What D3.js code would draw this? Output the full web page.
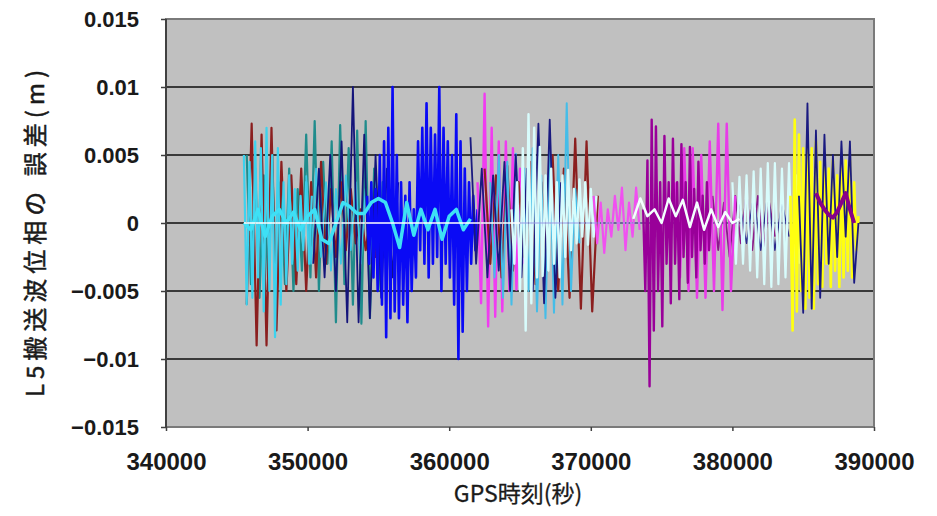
<!DOCTYPE html>
<html>
<head>
<meta charset="utf-8">
<script src="https://cdn.jsdelivr.net/npm/d3@7/dist/d3.min.js"></script>
<style>
  html, body { margin: 0; padding: 0; background: #fff; }
  svg { display: block; }
</style>
</head>
<body>
<svg id="chart" width="937" height="516"></svg>
<script>
// ticks
var xTicks = [340000, 350000, 360000, 370000, 380000, 390000];
var yTicks = [0.015, 0.01, 0.005, 0, -0.005, -0.01, -0.015];
var yTickLabels = ["0.015", "0.01", "0.005", "0", "\u22120.005", "\u22120.01", "\u22120.015"];

// series values, in mm (start time / step in seconds given in the table below)
var teal = [5.0, -4.5, 4.0, -5.5, 3.5, -4.0, 5.0, -6.0, 3.0, -4.5, 4.0, -5.0, 2.5, -3.5, 6.5, -4.0, 7.5, -5.0,
  4.5, -3.0, 6.0, -7.3, 7.2, -4.5, 5.5, -6.0, 6.8, -7.4, 7.5, -7.0, 4.0, -5.0, 3.0, -3.5, 2.0];
var brownA = [-6.0, 7.3, -9.0, 6.5, -9.0, 7.0, -7.9, 4.5, -5.0, 3.5, -4.5, 4.0, -5.0, 3.0, -4.0, 4.5, -3.0, 2.5,
  -2.5, 3.0, -2.0, 2.5, -1.5, 1.0, -2.0, 0.5, -2.5, 0];
var brownB = [4.0, -3.0, 3.5, -4.0, 4.2, -3.5, 3.0, -2.5, 4.5, -4.5, 3.0, -3.5, 5.0, -5.0, 4.0, -5.5, 6.2, -6.3,
  6.0, -6.5, 2.0];
var cyanA = [5.0, -6.0, 4.5, -5.5, 6.0, -4.0, 5.5, -6.5, 7.0, -5.0, 5.0, -8.4, 5.5, -6.0, 3.0, -4.5, 3.5, -3.0,
  2.5, -3.5, 2.0, -2.0, 3.0, -3.0, 2.0];
var cyanB = [3.5, -3.0, 4.0, -2.5, 3.0, -3.5, 2.5, -3.0, 3.5, -2.0, 3.0, -3.0, 2.5, -2.5, 3.0, -2.0, 2.0, -2.5,
  2.0, -1.5, 1.5];
var cyanLine = [0, -0.5, 1.0, -1.0, 0.5, 1.0, 0, 0.8, -0.5, 0.5, 1.0, -1.2, -1.5, 0, 1.5, 1.2, 0.7, 0.7, 1.5,
  1.8, 1.5, 0, -1.8, 1.5, -0.9, 1.0, -0.5, 1.0, -1.2, 0.5, 1.0, -0.5, 0.3];
var navyA = [-3.0, 4.0, -4.0, 5.0, -5.0, 6.0, -7.3, 10.0, -7.3, 6.5, -7.0, 5.0, -5.5, 4.0, -4.0, 3.0];
var blue = [2.0, -3.0, 3.0, -4.0, 2.5, -5.0, 5.0, -6.0, 6.0, -8.4, 7.0, -7.0, 10.0, -6.5, 5.0, -7.0, 3.0, -6.0,
  2.0, -7.3, 3.0, -5.0, 1.0, -4.0, 6.0, -2.0, 7.0, -3.0, 8.8, -4.0, 7.0, -3.0, 6.5, -2.5, 10.0, -5.0, 7.0, -3.0,
  6.0, -4.0, 5.0, -6.0, 8.0, -10.0, 6.0, -8.0, 4.0, -5.0, 3.0, -3.0, 2.0, -2.0, 1.0];
var magentaA = [3.0, -5.9, 9.5, -7.6, 7.0, -6.9, 6.0, -6.5, 6.0, -5.0, 5.5, -4.9, 4.0, -3.0];
var lightBlue = [3.0, -4.0, 5.0, -5.5, 4.5, -6.0, 5.1, -4.0, 4.0, -5.0, 5.5, -6.5, 3.5, -7.0, 6.0, -6.6, 5.0,
  -6.0, 8.8, -5.0, 2.5, -1.5];
var navyB = [6.3, -3.0, 4.0, -4.0, 3.5, -3.5, 4.5, -5.0, 5.0, -4.0, 4.0, -5.0, 7.3, -5.9, 7.6, -5.5, 3.0];
var lightCyanA = [1.0, -3.0, 3.0, -5.0, 5.5, -7.9, 8.0, -5.9, 7.0, -4.0, 5.6, -3.9, 3.5, -3.5, 4.0, -3.0, 3.0,
  -4.0, 3.5, -2.5, 3.9, -2.0, 2.5, -1.5, 3.2, -1.0, 3.0, -1.6, 2.5, -1.0, 2.0];
var magentaB = [2.0, -1.5, 1.5, -2.2, 1.0, -1.0, 2.0, -0.5, 2.6, -2.0, 1.5, -1.0, 2.6, -0.5];
var purpleA = [1.0, -5.0, 4.6, -12.0, 7.6, -7.9, 7.1, -5.0, 3.0, -7.6, 6.4, -3.0, 3.0, -5.9, 6.2, -3.0, 3.0,
  -5.6, 5.8, -2.5, 3.0, -4.4, 5.6, -2.5, 2.5, -4.0, 4.5, -2.0, 2.0, -3.0, 3.0, -2.0, 1.0];
var magentaC = [3.0, -4.0, 5.5, -5.0, 5.5, -5.5, 5.0, -5.5, 6.0, -5.0, 7.3, -6.4, 7.3, -5.0, 2.0];
var whiteZig = [0.3, 1.8, 0.5, 1.0, 0.0, 1.8, 0.5, 1.7, -0.3, 1.5, -0.5, 1.0, -0.3, 0.8, 0.0, 0.3];
var purpleB = [2.0, -2.0, 1.5, -2.5, 2.0, -1.5, 2.2, -2.0, 2.0, -2.0, 1.5, -1.0];
var navyC = [1.5, -1.5, 2.0, -2.0, 2.2, -2.0, 1.5, -1.0];
var lightCyanB = [3.0, -3.0, 3.4, -3.0, 3.5, -3.5, 3.8, -4.0, 4.0, -4.5, 4.4, -4.7, 4.4, -4.5, 4.0, -4.0, 4.4,
  -4.7, 3.5, -3.0];
var yellow = [2.0, -7.9, 7.6, -6.5, 6.5, -5.0, 5.5, -6.3, 6.4, -5.5, 5.5, -6.3, 6.0, -4.5, 4.5, -4.7, 4.6, -3.0,
  4.0, -4.7, 4.6, -3.5, 3.5, -4.7, 4.0, -4.0, 4.6, -3.5, 4.6, -4.0, 3.0, -2.0, 0.5];
var navyD = [2.0, -6.6, 8.8, -6.3, 6.8, -5.5, 6.5, -3.0, 5.0, -2.5, 6.0, -1.0, 6.0, -4.4, 0];
var purpleC = [2.2, 1.5, 1.0, 0.6, 0.4, 0.8, 1.5, 2.2, 1.0, 0.0];
var zeroA = [0, 0];
var zeroB = [0, 0];

// drawing table, bottom to top
var series = [
  { values: teal,       t0: 345700, dt: 300,   color: "#208c8c", width: 2.2 },
  { values: brownA,     t0: 345700, dt: 350,   color: "#8b1f1f", width: 2.2 },
  { values: cyanA,      t0: 345500, dt: 200,   color: "#3dd2ee", width: 2.2 },
  { values: cyanB,      t0: 349900, dt: 350,   color: "#3dc8e6", width: 1.8 },
  { values: navyA,      t0: 350400, dt: 400,   color: "#14147a", width: 1.8 },
  { values: blue,       t0: 354200, dt: 150,   color: "#0a0af5", width: 2.6 },
  { values: cyanLine,   t0: 345500, dt: 500,   color: "#3ee0f5", width: 3.5 },
  { values: magentaA,   t0: 362000, dt: 250,   color: "#f03cf0", width: 2.4 },
  { values: brownB,     t0: 362500, dt: 400,   color: "#8b1f1f", width: 2.2 },
  { values: lightBlue,  t0: 362900, dt: 300,   color: "#45bde8", width: 2 },
  { values: navyB,      t0: 361500, dt: 400,   color: "#1a1a80", width: 1.8 },
  { values: lightCyanA, t0: 364400, dt: 200,   color: "#d8fcfc", width: 2.4 },
  { values: magentaB,   t0: 370200, dt: 250,   color: "#f050f0", width: 2.2 },
  { values: zeroB,      t0: 365000, dt: 21000, color: "#9a9ae8", width: 1.2 },
  { values: purpleB,    t0: 378600, dt: 400,   color: "#8a1a8a", width: 1.8 },
  { values: navyC,      t0: 380500, dt: 500,   color: "#2a2a90", width: 1.4 },
  { values: lightCyanB, t0: 380000, dt: 250,   color: "#d8fcfc", width: 2.2 },
  { values: magentaC,   t0: 376000, dt: 300,   color: "#e83ce8", width: 2.4 },
  { values: purpleA,    t0: 373700, dt: 150,   color: "#990099", width: 2.4 },
  { values: whiteZig,   t0: 373000, dt: 500,   color: "#f4ffff", width: 2.5 },
  { values: yellow,     t0: 384100, dt: 150,   color: "#ffff10", width: 2.6 },
  { values: navyD,      t0: 384700, dt: 300,   color: "#1a1a80", width: 1.8 },
  { values: purpleC,    t0: 385900, dt: 300,   color: "#880088", width: 4 },
  { values: zeroA,      t0: 345500, dt: 19500, color: "#ffffff", width: 1.5 }
];

var svg = d3.select("#chart");
var plot = { left: 166, right: 874, top: 19, bottom: 427 };

var x = d3.scaleLinear().domain([340000, 390000]).range([plot.left, plot.right]);
var y = d3.scaleLinear().domain([-0.015, 0.015]).range([plot.bottom, plot.top]);

svg.append("rect")
  .attr("x", plot.left).attr("y", plot.top)
  .attr("width", plot.right - plot.left).attr("height", plot.bottom - plot.top)
  .attr("fill", "#c0c0c0");

// gridlines
svg.append("g").selectAll("line")
  .data(yTicks.slice(1, -1))
  .enter().append("line")
    .attr("x1", plot.left).attr("x2", plot.right)
    .attr("y1", function(d) { return y(d); }).attr("y2", function(d) { return y(d); })
    .attr("stroke", "#3a3a3a").attr("stroke-width", 2);

var line = d3.line()
  .x(function(d) { return x(d[0]); })
  .y(function(d) { return y(d[1]); });

svg.append("clipPath").attr("id", "plotclip").append("rect")
  .attr("x", plot.left).attr("y", plot.top)
  .attr("width", plot.right - plot.left).attr("height", plot.bottom - plot.top);

svg.append("g").attr("clip-path", "url(#plotclip)")
  .selectAll("path")
  .data(series)
  .enter().append("path")
    .attr("fill", "none")
    .attr("stroke", function(s) { return s.color; })
    .attr("stroke-width", function(s) { return s.width; })
    .attr("stroke-linejoin", "round")
    .attr("d", function(s) {
      return line(s.values.map(function(v, i) { return [s.t0 + i * s.dt, v / 1000]; }));
    });

// frame
svg.append("rect")
  .attr("x", plot.left).attr("y", plot.top)
  .attr("width", plot.right - plot.left).attr("height", plot.bottom - plot.top)
  .attr("fill", "none").attr("stroke", "#7a7a7a").attr("stroke-width", 2);
svg.append("line")
  .attr("x1", plot.left).attr("x2", plot.left).attr("y1", plot.top).attr("y2", plot.bottom)
  .attr("stroke", "#404040").attr("stroke-width", 2);

// axes
var yAxis = d3.axisLeft(y).tickValues(yTicks).tickSize(5).tickPadding(22)
  .tickFormat(function(d, i) { return yTickLabels[i]; });
var gy = svg.append("g").attr("transform", "translate(" + plot.left + ",0)").call(yAxis);

var xAxis = d3.axisBottom(x).tickValues(xTicks).tickSize(4).tickPadding(22)
  .tickFormat(d3.format("d"));
var gx = svg.append("g").attr("transform", "translate(0," + plot.bottom + ")").call(xAxis);

[gy, gx].forEach(function(g) {
  g.select(".domain").remove();
  g.selectAll(".tick line").attr("stroke", "#404040").attr("stroke-width", 1.5);
  g.selectAll("text")
    .attr("fill", "#1a1a1a")
    .style("font-family", "Arial, 'Liberation Sans', sans-serif")
    .style("font-weight", "bold");
});
gy.selectAll("text").style("font-size", "22px").attr("dy", "0.35em");
gx.selectAll("text").style("font-size", "24px").attr("dy", "0.71em");

// titles
svg.append("text")
  .attr("transform", "translate(36,231) rotate(-90)")
  .attr("text-anchor", "middle")
  .attr("dy", "0.35em")
  .style("font-family", "'Noto Sans CJK JP', sans-serif")
  .style("font-size", "24px")
  .style("letter-spacing", "5px")
  .attr("fill", "#1a1a1a")
  .attr("stroke", "#1a1a1a")
  .attr("stroke-width", 0.5)
  .text("L5搬送波位相の 誤差(m)");

svg.append("text")
  .attr("x", 518).attr("y", 494)
  .attr("text-anchor", "middle")
  .attr("dy", "0.35em")
  .style("font-family", "'Noto Sans CJK JP', sans-serif")
  .style("font-size", "23px")
  .attr("fill", "#1a1a1a")
  .attr("stroke", "#1a1a1a")
  .attr("stroke-width", 0.3)
  .text("GPS時刻(秒)");
</script>
</body>
</html>
